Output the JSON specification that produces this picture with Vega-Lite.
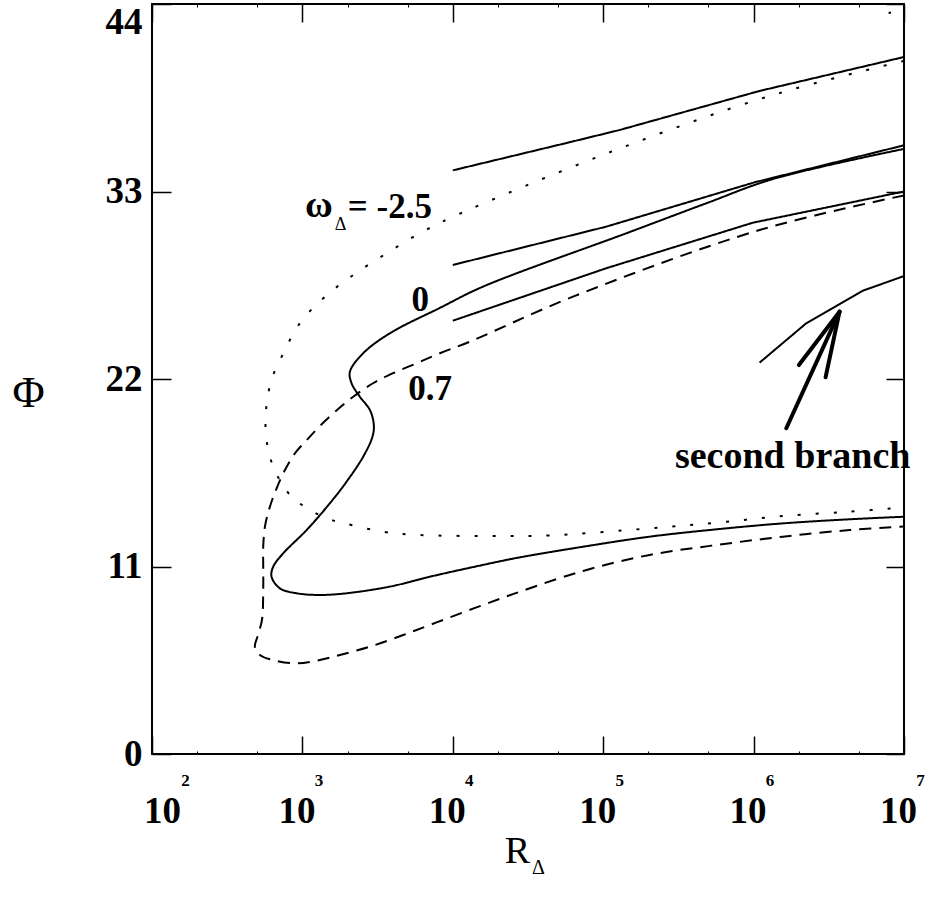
{
  "$schema": "https://vega.github.io/schema/vega-lite/v6.json",
  "width": 752,
  "height": 750,
  "autosize": {"type": "none"},
  "padding": {"left": 152, "top": 4, "right": 24, "bottom": 145},
  "background": "white",
  "config": {
    "view": {"stroke": "black", "strokeWidth": 2},
    "axis": {"grid": false, "domain": false, "tickColor": "black", "labelColor": "black", "titleColor": "black", "labelFont": "Liberation Serif", "titleFont": "Liberation Serif"},
    "text": {"font": "Liberation Serif", "color": "black"}
  },
  "datasets": {
    "curves": [
      {"c": "w0", "s": "solid", "i": 1, "R": 10000000, "Phi": 35.5},
      {"c": "w0", "s": "solid", "i": 2, "R": 1343000, "Phi": 33.73},
      {"c": "w0", "s": "solid", "i": 3, "R": 485300, "Phi": 32.31},
      {"c": "w0", "s": "solid", "i": 4, "R": 142600, "Phi": 30.55},
      {"c": "w0", "s": "solid", "i": 5, "R": 15890, "Phi": 27.42},
      {"c": "w0", "s": "solid", "i": 7, "R": 8200, "Phi": 26.17},
      {"c": "w0", "s": "solid", "i": 9, "R": 3811, "Phi": 24.68},
      {"c": "w0", "s": "solid", "i": 10, "R": 2535, "Phi": 23.51},
      {"c": "w0", "s": "solid", "i": 11, "R": 2070, "Phi": 22.43},
      {"c": "w0", "s": "solid", "i": 12, "R": 2123, "Phi": 21.75},
      {"c": "w0", "s": "solid", "i": 13, "R": 2410, "Phi": 20.96},
      {"c": "w0", "s": "solid", "i": 14, "R": 2812, "Phi": 20.18},
      {"c": "w0", "s": "solid", "i": 15, "R": 2985, "Phi": 19.3},
      {"c": "w0", "s": "solid", "i": 16, "R": 2924, "Phi": 18.62},
      {"c": "w0", "s": "solid", "i": 17, "R": 2535, "Phi": 17.44},
      {"c": "w0", "s": "solid", "i": 18, "R": 1968, "Phi": 15.98},
      {"c": "w0", "s": "solid", "i": 19, "R": 1524, "Phi": 14.71},
      {"c": "w0", "s": "solid", "i": 20, "R": 1067, "Phi": 13.14},
      {"c": "w0", "s": "solid", "i": 21, "R": 744.7, "Phi": 11.77},
      {"c": "w0", "s": "solid", "i": 22, "R": 639.7, "Phi": 10.99},
      {"c": "w0", "s": "solid", "i": 23, "R": 623.7, "Phi": 10.4},
      {"c": "w0", "s": "solid", "i": 24, "R": 708, "Phi": 9.72},
      {"c": "w0", "s": "solid", "i": 25, "R": 914, "Phi": 9.43},
      {"c": "w0", "s": "solid", "i": 26, "R": 1306, "Phi": 9.33},
      {"c": "w0", "s": "solid", "i": 27, "R": 1968, "Phi": 9.43},
      {"c": "w0", "s": "solid", "i": 28, "R": 3811, "Phi": 9.82},
      {"c": "w0", "s": "solid", "i": 29, "R": 7030, "Phi": 10.4},
      {"c": "w0", "s": "solid", "i": 30, "R": 15100, "Phi": 11.05},
      {"c": "w0", "s": "solid", "i": 31, "R": 26490, "Phi": 11.5},
      {"c": "w0", "s": "solid", "i": 32, "R": 73450, "Phi": 12.16},
      {"c": "w0", "s": "solid", "i": 33, "R": 203700, "Phi": 12.75},
      {"c": "w0", "s": "solid", "i": 34, "R": 564900, "Phi": 13.18},
      {"c": "w0", "s": "solid", "i": 35, "R": 1567000, "Phi": 13.53},
      {"c": "w0", "s": "solid", "i": 36, "R": 4345000, "Phi": 13.77},
      {"c": "w0", "s": "solid", "i": 37, "R": 10000000, "Phi": 13.92},

      {"c": "wm25", "s": "dot", "i": 1, "R": 10000000, "Phi": 40.66},
      {"c": "wm25", "s": "dot", "i": 2, "R": 1276000, "Phi": 38.6},
      {"c": "wm25", "s": "dot", "i": 3, "R": 110400, "Phi": 35.3},
      {"c": "wm25", "s": "dot", "i": 4, "R": 10050, "Phi": 31.52},
      {"c": "wm25", "s": "dot", "i": 5, "R": 6039, "Phi": 30.55},
      {"c": "wm25", "s": "dot", "i": 6, "R": 3622, "Phi": 29.37},
      {"c": "wm25", "s": "dot", "i": 7, "R": 2178, "Phi": 28.1},
      {"c": "wm25", "s": "dot", "i": 8, "R": 1413, "Phi": 26.83},
      {"c": "wm25", "s": "dot", "i": 9, "R": 961.6, "Phi": 25.27},
      {"c": "wm25", "s": "dot", "i": 10, "R": 727.8, "Phi": 23.31},
      {"c": "wm25", "s": "dot", "i": 11, "R": 639.7, "Phi": 22.24},
      {"c": "wm25", "s": "dot", "i": 12, "R": 592.9, "Phi": 21.16},
      {"c": "wm25", "s": "dot", "i": 13, "R": 572.1, "Phi": 20.08},
      {"c": "wm25", "s": "dot", "i": 14, "R": 569.5, "Phi": 19.01},
      {"c": "wm25", "s": "dot", "i": 15, "R": 592.9, "Phi": 17.84},
      {"c": "wm25", "s": "dot", "i": 16, "R": 639.7, "Phi": 16.86},
      {"c": "wm25", "s": "dot", "i": 17, "R": 727.8, "Phi": 15.88},
      {"c": "wm25", "s": "dot", "i": 18, "R": 869, "Phi": 15.0},
      {"c": "wm25", "s": "dot", "i": 19, "R": 1122, "Phi": 14.32},
      {"c": "wm25", "s": "dot", "i": 20, "R": 1449, "Phi": 13.83},
      {"c": "wm25", "s": "dot", "i": 21, "R": 1914, "Phi": 13.53},
      {"c": "wm25", "s": "dot", "i": 22, "R": 3443, "Phi": 13.04},
      {"c": "wm25", "s": "dot", "i": 23, "R": 6039, "Phi": 12.85},
      {"c": "wm25", "s": "dot", "i": 24, "R": 20510, "Phi": 12.79},
      {"c": "wm25", "s": "dot", "i": 25, "R": 44160, "Phi": 12.82},
      {"c": "wm25", "s": "dot", "i": 26, "R": 203700, "Phi": 13.24},
      {"c": "wm25", "s": "dot", "i": 27, "R": 564900, "Phi": 13.57},
      {"c": "wm25", "s": "dot", "i": 28, "R": 1567000, "Phi": 13.96},
      {"c": "wm25", "s": "dot", "i": 29, "R": 4345000, "Phi": 14.22},
      {"c": "wm25", "s": "dot", "i": 30, "R": 10000000, "Phi": 14.46},

      {"c": "w07", "s": "dash", "i": 1, "R": 10000000, "Phi": 32.77},
      {"c": "w07", "s": "dash", "i": 2, "R": 1096000, "Phi": 30.74},
      {"c": "w07", "s": "dash", "i": 3, "R": 62950, "Phi": 26.83},
      {"c": "w07", "s": "dash", "i": 4, "R": 12970, "Phi": 24.19},
      {"c": "w07", "s": "dash", "i": 5, "R": 8200, "Phi": 23.51},
      {"c": "w07", "s": "dash", "i": 6, "R": 5741, "Phi": 22.92},
      {"c": "w07", "s": "dash", "i": 7, "R": 4009, "Phi": 22.34},
      {"c": "w07", "s": "dash", "i": 8, "R": 2951, "Phi": 21.75},
      {"c": "w07", "s": "dash", "i": 9, "R": 2178, "Phi": 20.96},
      {"c": "w07", "s": "dash", "i": 10, "R": 1670, "Phi": 20.12},
      {"c": "w07", "s": "dash", "i": 11, "R": 1307, "Phi": 19.24},
      {"c": "w07", "s": "dash", "i": 12, "R": 1055, "Phi": 18.36},
      {"c": "w07", "s": "dash", "i": 13, "R": 891.3, "Phi": 17.64},
      {"c": "w07", "s": "dash", "i": 14, "R": 765.6, "Phi": 16.66},
      {"c": "w07", "s": "dash", "i": 15, "R": 674.1, "Phi": 15.59},
      {"c": "w07", "s": "dash", "i": 16, "R": 608.1, "Phi": 14.51},
      {"c": "w07", "s": "dash", "i": 17, "R": 563.6, "Phi": 13.34},
      {"c": "w07", "s": "dash", "i": 18, "R": 548.9, "Phi": 12.16},
      {"c": "w07", "s": "dash", "i": 19, "R": 548.9, "Phi": 10.99},
      {"c": "w07", "s": "dash", "i": 20, "R": 548.9, "Phi": 9.62},
      {"c": "w07", "s": "dash", "i": 21, "R": 538.3, "Phi": 7.86},
      {"c": "w07", "s": "dash", "i": 22, "R": 502.4, "Phi": 6.88},
      {"c": "w07", "s": "dash", "i": 23, "R": 483.1, "Phi": 6.3},
      {"c": "w07", "s": "dash", "i": 24, "R": 522.1, "Phi": 5.81},
      {"c": "w07", "s": "dash", "i": 25, "R": 639.7, "Phi": 5.51},
      {"c": "w07", "s": "dash", "i": 26, "R": 891.3, "Phi": 5.32},
      {"c": "w07", "s": "dash", "i": 27, "R": 1242, "Phi": 5.47},
      {"c": "w07", "s": "dash", "i": 28, "R": 1774, "Phi": 5.81},
      {"c": "w07", "s": "dash", "i": 29, "R": 2812, "Phi": 6.3},
      {"c": "w07", "s": "dash", "i": 30, "R": 4677, "Phi": 6.98},
      {"c": "w07", "s": "dash", "i": 31, "R": 7798, "Phi": 7.72},
      {"c": "w07", "s": "dash", "i": 32, "R": 14360, "Phi": 8.6},
      {"c": "w07", "s": "dash", "i": 33, "R": 26490, "Phi": 9.45},
      {"c": "w07", "s": "dash", "i": 34, "R": 73450, "Phi": 10.74},
      {"c": "w07", "s": "dash", "i": 35, "R": 203700, "Phi": 11.68},
      {"c": "w07", "s": "dash", "i": 36, "R": 564900, "Phi": 12.26},
      {"c": "w07", "s": "dash", "i": 37, "R": 1567000, "Phi": 12.75},
      {"c": "w07", "s": "dash", "i": 38, "R": 4345000, "Phi": 13.14},
      {"c": "w07", "s": "dash", "i": 39, "R": 10000000, "Phi": 13.35}
    ],
    "segs": [
      {"c": "A", "s": "solid", "i": 1, "R": 10000, "Phi": 34.24},
      {"c": "A", "s": "solid", "i": 2, "R": 59840, "Phi": 35.89},
      {"c": "A", "s": "solid", "i": 3, "R": 128800, "Phi": 36.61},
      {"c": "A", "s": "solid", "i": 4, "R": 1096000, "Phi": 38.9},
      {"c": "A", "s": "solid", "i": 5, "R": 10000000, "Phi": 40.89},
      {"c": "B", "s": "solid", "i": 1, "R": 10000, "Phi": 28.69},
      {"c": "B", "s": "solid", "i": 2, "R": 105000, "Phi": 30.94},
      {"c": "B", "s": "solid", "i": 3, "R": 1016000, "Phi": 33.54},
      {"c": "B", "s": "solid", "i": 4, "R": 10000000, "Phi": 35.71},
      {"c": "C", "s": "solid", "i": 1, "R": 10000, "Phi": 25.42},
      {"c": "C", "s": "solid", "i": 2, "R": 105000, "Phi": 28.5},
      {"c": "C", "s": "solid", "i": 3, "R": 989000, "Phi": 31.17},
      {"c": "C", "s": "solid", "i": 4, "R": 10000000, "Phi": 33.0},
      {"c": "SB", "s": "solid", "i": 1, "R": 1096000, "Phi": 22.96},
      {"c": "SB", "s": "solid", "i": 2, "R": 2239000, "Phi": 25.27},
      {"c": "SB", "s": "solid", "i": 3, "R": 5321000, "Phi": 27.18},
      {"c": "SB", "s": "solid", "i": 4, "R": 10000000, "Phi": 28.04},
      {"c": "D", "s": "dot", "i": 1, "R": 7900000, "Phi": 43.47},
      {"c": "D", "s": "dot", "i": 2, "R": 8200000, "Phi": 43.5}
    ],
    "labels35": [
      {"t": "= -2.5", "R": 2005, "Phi": 31.43},
      {"t": "0", "R": 5316, "Phi": 26.01},
      {"t": "0.7", "R": 5047, "Phi": 20.77}
    ],
    "labels38": [
      {"t": "ω", "R": 1039, "Phi": 31.5},
      {"t": "second branch", "R": 300000, "Phi": 16.76}
    ],
    "sub": [
      {"t": "Δ", "R": 1644, "Phi": 30.74}
    ],
    "arrow": [
      {"R": 1649000, "Phi": 19.11, "R2": 3727000, "Phi2": 25.95},
      {"R": 2000000, "Phi": 22.82, "R2": 3727000, "Phi2": 25.95},
      {"R": 3009000, "Phi": 22.1, "R2": 3727000, "Phi2": 25.95}
    ]
  },
  "resolve": {"axis": {"x": "independent", "y": "independent"}},
  "layer": [
    {
      "data": {"name": "curves"},
      "mark": {"type": "line", "interpolate": "catmull-rom", "stroke": "black", "strokeWidth": 2, "strokeCap": "butt"},
      "encoding": {
        "x": {"field": "R", "type": "quantitative", "scale": {"type": "log", "domain": [100, 10000000], "nice": false},
          "axis": {"orient": "bottom", "values": [100, 1000, 10000, 100000, 1000000, 10000000], "labelExpr": "'10'",
            "labelFontWeight": "bold", "labelFontSize": 37, "labelPadding": 57,
            "labelOffset": {"condition": {"test": "datum.value < 200", "value": 10}, "value": -6},
            "labelFlush": false, "labelOverlap": false, "labelBound": false,
            "tickSize": -18, "tickWidth": 1.5, "domain": false, "grid": false,
            "title": "R", "titleFontWeight": "normal", "titleFontSize": 38, "titleX": 365, "titleY": 108, "titleAlign": "center", "titleBaseline": "alphabetic"}},
        "y": {"field": "Phi", "type": "quantitative", "scale": {"domain": [0, 44], "nice": false, "zero": false},
          "axis": {"orient": "left", "values": [0, 11, 22, 33, 44], "labelFontWeight": "bold", "labelFontSize": 37, "labelPadding": 29,
            "labelBaseline": {"condition": {"test": "datum.value == 44", "value": "top"}, "value": "middle"},
            "labelOverlap": false, "labelBound": false, "labelFlush": false,
            "tickSize": -19, "tickWidth": 1.5, "domain": false, "grid": false,
            "title": "Φ", "titleAngle": 0, "titleFontWeight": "normal", "titleFontSize": 44, "titleX": -124, "titleY": 402, "titleAlign": "center", "titleBaseline": "alphabetic"}},
        "detail": {"field": "c"},
        "order": {"field": "i", "type": "quantitative"},
        "strokeDash": {"field": "s", "type": "nominal", "scale": {"domain": ["solid", "dash", "dot"], "range": [[1, 0], [12, 8], [3, 15]]}, "legend": null}
      }
    },
    {
      "data": {"name": "segs"},
      "mark": {"type": "line", "stroke": "black", "strokeWidth": 2, "strokeCap": "butt"},
      "encoding": {
        "x": {"field": "R", "type": "quantitative", "scale": {"type": "log", "domain": [100, 10000000], "nice": false},
          "axis": {"orient": "bottom", "values": [100, 1000, 10000, 100000, 1000000, 10000000], "labelExpr": "'' + round(log(datum.value) / LN10)",
            "labelFontWeight": "bold", "labelFontSize": 17, "labelPadding": 18,
            "labelOffset": {"condition": {"test": "datum.value < 200", "value": 33}, "value": 16},
            "labelFlush": false, "labelOverlap": false, "labelBound": false,
            "ticks": false, "domain": false, "grid": false,
            "title": "Δ", "titleFontWeight": "normal", "titleFontSize": 20, "titleX": 386, "titleY": 119, "titleAlign": "center", "titleBaseline": "alphabetic"}},
        "y": {"field": "Phi", "type": "quantitative", "scale": {"domain": [0, 44], "nice": false, "zero": false},
          "axis": {"orient": "right", "values": [0, 11, 22, 33, 44], "labels": false, "tickSize": -18, "tickWidth": 1.5, "domain": false, "grid": false, "title": null}},
        "detail": {"field": "c"},
        "order": {"field": "i", "type": "quantitative"},
        "strokeDash": {"field": "s", "type": "nominal", "scale": {"domain": ["solid", "dash", "dot"], "range": [[1, 0], [12, 8], [3, 15]]}, "legend": null}
      }
    },
    {
      "data": {"name": "labels35"},
      "mark": {"type": "text", "align": "left", "baseline": "alphabetic", "fontSize": 35, "fontWeight": "bold", "font": "Liberation Serif", "color": "black"},
      "encoding": {
        "x": {"field": "R", "type": "quantitative", "scale": {"type": "log", "domain": [100, 10000000], "nice": false},
          "axis": {"orient": "top", "values": [100, 1000, 10000, 100000, 1000000, 10000000], "labels": false, "tickSize": -18, "tickWidth": 1.5, "domain": false, "grid": false, "title": null}},
        "y": {"field": "Phi", "type": "quantitative", "scale": {"domain": [0, 44], "nice": false, "zero": false}, "axis": null},
        "text": {"field": "t"}
      }
    },
    {
      "data": {"name": "labels38"},
      "mark": {"type": "text", "align": "left", "baseline": "alphabetic", "fontSize": 38, "fontWeight": "bold", "font": "Liberation Serif", "color": "black"},
      "encoding": {
        "x": {"field": "R", "type": "quantitative", "scale": {"type": "log", "domain": [100, 10000000], "nice": false},
          "axis": {"orient": "bottom", "values": [200, 500, 2000, 5000, 20000, 50000, 200000, 500000, 2000000, 5000000], "labels": false, "tickSize": -3, "tickWidth": 1, "domain": false, "grid": false, "title": null}},
        "y": {"field": "Phi", "type": "quantitative", "scale": {"domain": [0, 44], "nice": false, "zero": false}, "axis": null},
        "text": {"field": "t"}
      }
    },
    {
      "data": {"name": "sub"},
      "mark": {"type": "text", "align": "left", "baseline": "alphabetic", "fontSize": 18, "font": "Liberation Serif", "color": "black"},
      "encoding": {
        "x": {"field": "R", "type": "quantitative", "scale": {"type": "log", "domain": [100, 10000000], "nice": false},
          "axis": {"orient": "top", "values": [200, 500, 2000, 5000, 20000, 50000, 200000, 500000, 2000000, 5000000], "labels": false, "tickSize": -3, "tickWidth": 1, "domain": false, "grid": false, "title": null}},
        "y": {"field": "Phi", "type": "quantitative", "scale": {"domain": [0, 44], "nice": false, "zero": false}, "axis": null},
        "text": {"field": "t"}
      }
    },
    {
      "data": {"name": "arrow"},
      "mark": {"type": "rule", "color": "black", "strokeWidth": 4, "strokeCap": "round"},
      "encoding": {
        "x": {"field": "R", "type": "quantitative", "scale": {"type": "log", "domain": [100, 10000000], "nice": false}, "axis": null},
        "y": {"field": "Phi", "type": "quantitative", "scale": {"domain": [0, 44], "nice": false, "zero": false}, "axis": null},
        "x2": {"field": "R2"},
        "y2": {"field": "Phi2"}
      }
    }
  ]
}
